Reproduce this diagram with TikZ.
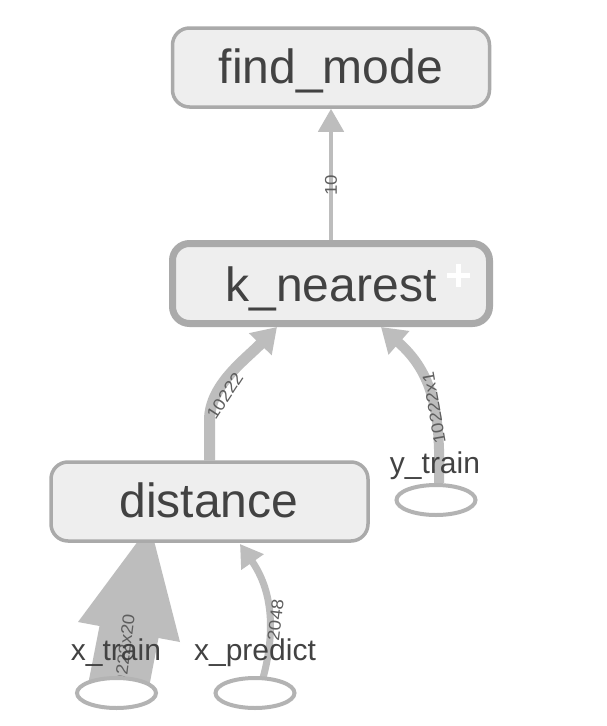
\documentclass[tikz,border=0pt]{standalone}
\usepackage{fontspec}
\setmainfont{Liberation Sans}
\newfontfamily\labfont[FakeStretch=1.1]{Liberation Sans}
\usetikzlibrary{arrows.meta,backgrounds,shapes.geometric,calc}
\definecolor{nodefill}{HTML}{EEEEEE}
\definecolor{nodeline}{HTML}{AAAAAA}
\definecolor{edgecol}{HTML}{BDBDBD}
\definecolor{txt}{HTML}{424242}
\definecolor{elab}{HTML}{5E5E5E}
\definecolor{ellcol}{HTML}{B3B3B3}
\begin{document}
\begin{tikzpicture}[x=1pt,y=-1pt,
  opbox/.style={draw=nodeline, line width=3.5pt, fill=nodefill, rounded corners=17pt, inner sep=0pt, minimum width=317pt, minimum height=79pt},
  optext/.style={text=txt, font=\fontsize{48}{50}\selectfont, anchor=base, inner sep=0pt},
  inpell/.style={draw=ellcol, line width=4pt, fill=white, ellipse, minimum width=79pt, minimum height=30pt, inner sep=0pt},
  intext/.style={text=txt, font=\fontsize{30}{32}\selectfont, anchor=base, inner sep=0pt},
  edgeline/.style={draw=edgecol, line cap=butt},
  elabel/.style={text=elab, font=\labfont\fontsize{17}{18}\selectfont, inner sep=0pt}
]
\useasboundingbox (0,0) rectangle (606,726);

% operation nodes
\node[opbox] (fm) at (331,67.5) {};
\node[optext] (fmt) at (331,83) {find\_mode};
\node[opbox, line width=7pt, minimum width=317pt, minimum height=80pt] (kn) at (331,283.5) {};
\node[optext] (knt) at (331,301.5) {k\_nearest};
\draw[white, line width=5pt] (447,275) -- (470,275);
\draw[white, line width=5pt] (458.5,263.5) -- (458.5,286.5);
\node[opbox] (di) at (209.5,501.5) {};
\node[optext] (dit) at (209,517) {distance};

% input nodes
\node[inpell] (yt) at (436,500) {};
\node[intext] (ytt) at (435,473) {y\_train};
\node[inpell] (xt) at (116.5,693) {};
\node[intext] (xtt) at (116,660) {x\_train};
\node[inpell] (xp) at (255,693) {};
\node[intext] (xpt) at (255,660) {x\_predict};

\begin{scope}[on background layer]
  \fill[white] (0,0) rectangle (606,726);
  % k_nearest -> find_mode
  \draw[edgeline, line width=4.5pt, -{Triangle[width=25pt,length=23pt]}] (kn.north) -- (fm.south);
  \node[elabel, rotate=90] (l1) at (331,185) {10};
  % distance -> k_nearest
  \coordinate (c1) at (277,327);
  \draw[edgeline, line width=11pt, -{Triangle[width=30pt,length=24pt]}] (di.north) -- ++(0,-40) .. controls (209.5,385) and (245,360) .. (c1);
  \node[elabel, rotate=57] (l2) at (225,396) {10222};
  % y_train -> k_nearest
  \coordinate (c2) at (381,327);
  \draw[edgeline, line width=10pt, -{Triangle[width=30pt,length=24pt]}] ($(yt.north)+(3,0)$) .. controls (441,410) and (432,372) .. (c2);
  \node[elabel, rotate=100] (l3) at (434,408) {10222x1};
  % x_predict -> distance
  \coordinate (c3) at (240,544);
  \draw[edgeline, line width=7pt, -{Triangle[width=26pt,length=22pt]}] ($(xp.north)+(8,2)$) .. controls (276,630) and (272,590) .. (c3);
  \node[elabel, rotate=83] (l5) at (275.5,620) {2048};
  % x_train -> distance (wide edge)
  \coordinate (w1) at (87,690);
  \coordinate (w2) at (99.5,626);
  \coordinate (w3) at (78,622);
  \coordinate (w4) at (150,525);
  \coordinate (w5) at (180,642);
  \coordinate (w6) at (158.5,638);
  \coordinate (w7) at (148.5,690);
  \fill[edgecol] (w1) -- (w2) -- (w3) -- (w4) -- (w5) -- (w6) -- (w7) -- cycle;
  \node[elabel, rotate=83] (l4) at (124,655) {10222x20};
\end{scope}
\end{tikzpicture}
\end{document}
